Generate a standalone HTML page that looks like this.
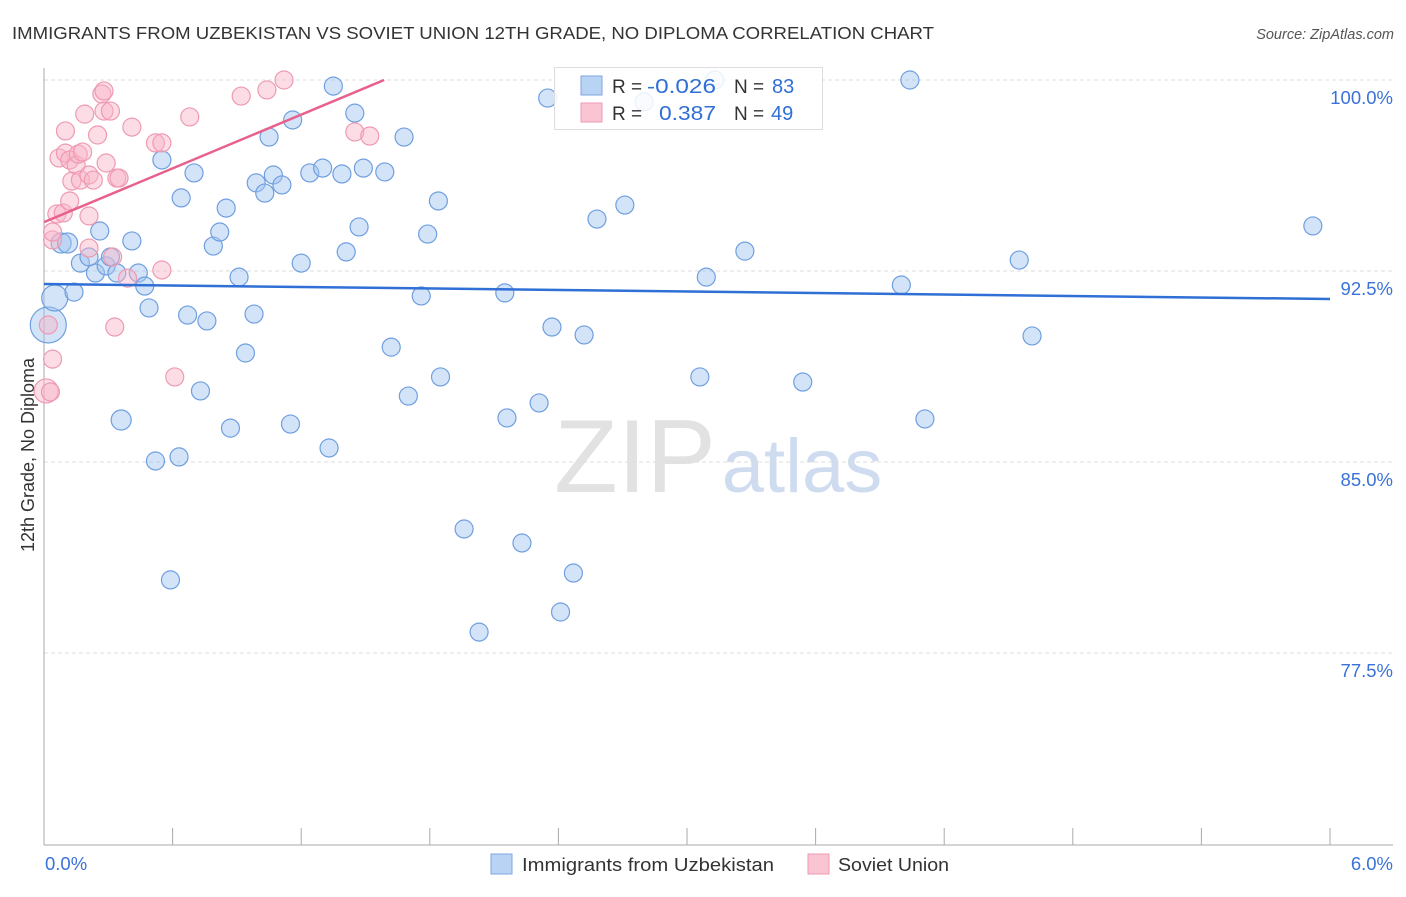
<!DOCTYPE html>
<html><head><meta charset="utf-8"><style>
body{margin:0;background:#fff;font-family:"Liberation Sans",sans-serif;}
svg text{font-family:"Liberation Sans",sans-serif;}
</style></head><body>
<svg id="chart" width="1406" height="892" viewBox="0 0 1406 892">
<text x="12" y="39" font-size="17.5" fill="#333" textLength="922" lengthAdjust="spacingAndGlyphs">IMMIGRANTS FROM UZBEKISTAN VS SOVIET UNION 12TH GRADE, NO DIPLOMA CORRELATION CHART</text>
<text x="1394" y="39" font-size="14.5" fill="#555" font-style="italic" text-anchor="end">Source: ZipAtlas.com</text>
<text x="34" y="455" font-size="18" fill="#333" text-anchor="middle" transform="rotate(-90 34 455)">12th Grade, No Diploma</text>
<g><text x="635" y="492" font-size="104" fill="#e2e2e2" font-family="Liberation Serif" text-anchor="middle">ZIP</text><text x="802" y="492" font-size="76" fill="#cfdcf0" text-anchor="middle">atlas</text></g>
<g id="grid"></g><g id="axes"></g><g id="pts"></g><g id="trends"></g>
<g>
<rect x="554.5" y="67.5" width="268" height="62" fill="rgba(255,255,255,0.85)" stroke="#ddd"/>
<rect x="581" y="76" width="21" height="19" fill="#b9d3f4" stroke="#7ea6e0"/>
<rect x="581" y="103" width="21" height="19" fill="#f9c5d3" stroke="#ee9ab2"/>
<text x="612" y="93" font-size="19" fill="#333">R = </text><text x="647" y="93" font-size="20" fill="#2f6fd6" textLength="69" lengthAdjust="spacingAndGlyphs">-0.026</text>
<text x="734" y="93" font-size="19" fill="#333">N = </text><text x="772" y="93" font-size="20" fill="#2f6fd6">83</text>
<text x="612" y="120" font-size="19" fill="#333">R = </text><text x="659" y="120" font-size="20" fill="#2f6fd6" textLength="57" lengthAdjust="spacingAndGlyphs">0.387</text>
<text x="734" y="120" font-size="19" fill="#333">N = </text><text x="771" y="120" font-size="20" fill="#2f6fd6">49</text>
</g>
<g>
<rect x="491" y="854" width="21" height="20" fill="#b9d3f4" stroke="#7ea6e0"/>
<text x="522" y="871" font-size="18" fill="#333" textLength="252" lengthAdjust="spacingAndGlyphs">Immigrants from Uzbekistan</text>
<rect x="808" y="854" width="21" height="20" fill="#f9c5d3" stroke="#ee9ab2"/>
<text x="838" y="871" font-size="18" fill="#333" textLength="111" lengthAdjust="spacingAndGlyphs">Soviet Union</text>
</g>
</svg>
<script>
const blueX=[.02,.05,.08,.11,.14,.17,.21,.24,.26,.29,.31,.34,.36,.41,.44,.47,.49,.52,.55,.59,.63,.64,.67,.70,.73,.76,.79,.82,.85,.87,.91,.94,.98,.99,1.03,1.05,1.07,1.11,1.15,1.16,1.20,1.24,1.30,1.33,1.35,1.39,1.41,1.45,1.47,1.49,1.59,1.62,1.68,1.70,1.76,1.79,1.84,1.85,1.96,2.03,2.15,2.16,2.23,2.31,2.35,2.37,2.41,2.47,2.52,2.58,2.71,2.80,3.06,3.09,3.13,3.27,3.54,4.00,4.04,4.11,4.55,4.61,5.92];
const blueY=[90.38,91.44,93.6,93.6,91.67,92.81,93.05,92.42,94.07,92.70,93.05,92.42,86.65,93.68,92.42,91.91,91.05,85.04,96.86,80.37,85.2,95.37,90.77,96.35,87.79,90.54,93.48,94.03,94.97,86.33,92.26,89.28,90.81,95.96,95.56,97.76,96.27,95.88,86.49,98.43,92.81,96.35,96.54,85.55,99.76,96.31,93.25,98.70,94.23,96.54,96.39,89.51,97.76,87.59,91.52,93.95,95.25,88.34,82.37,78.32,91.64,86.73,81.82,87.32,99.29,90.30,79.11,80.64,89.99,94.54,95.09,99.14,88.34,92.26,100.0,93.28,88.14,91.95,100.0,86.69,92.93,89.95,94.27];
const blueR=[18,13,10,10,9,9,9,9,9,9,9,9,10,9,9,9,9,9,9,9,9,9,9,9,9,9,9,9,9,9,9,9,9,9,9,9,9,9,9,9,9,9,9,9,9,9,9,9,9,9,9,9,9,9,9,9,9,9,9,9,9,9,9,9,9,9,9,9,9,9,9,9,9,9,9,9,9,9,9,9,9,9,9];
const pinkX=[.02,.01,.03,.04,.04,.04,.06,.07,.09,.10,.10,.12,.12,.13,.15,.16,.17,.18,.19,.21,.21,.21,.23,.25,.27,.28,.28,.29,.31,.32,.33,.34,.35,.39,.41,.52,.55,.55,.61,.68,.92,1.04,1.12,1.45,1.52];
const pinkY=[90.38,87.79,87.75,89.04,93.72,94.03,94.74,96.94,94.78,98.0,97.13,96.86,95.25,96.03,96.66,97.09,96.07,97.17,98.66,96.27,93.40,94.66,96.07,97.84,99.45,99.57,98.78,96.74,98.78,93.05,90.30,96.15,96.15,92.22,98.15,97.53,97.53,92.54,88.34,98.55,99.37,99.61,100.0,97.96,97.80];
const yTicks=[100,92.5,85,77.5];
const yTickLabels=["100.0%","92.5%","85.0%","77.5%"];
const xTickLabels=["0.0%","6.0%"];
const blueTrend=[91.99,91.40];
const pinkTrend=[94.42,1.587];
const X0=44,X1=1330,Y100=80,PXPER=191/7.5;
const sx=v=>X0+v/6*(X1-X0), sy=v=>Y100+(100-v)*PXPER;
const NS="http://www.w3.org/2000/svg";
function mk(t,a,p){const e=document.createElementNS(NS,t);for(const k in a)e.setAttribute(k,a[k]);p.appendChild(e);return e;}
const grid=document.getElementById('grid'),axes=document.getElementById('axes'),pts=document.getElementById('pts'),tr=document.getElementById('trends');
yTicks.forEach((t,i)=>{
 const l=mk('line',{x1:X0,x2:1393,y1:sy(t),y2:sy(t),stroke:'#ddd','stroke-dasharray':'4 3'},grid);
 
 
 const tx=mk('text',{x:1393,y:sy(t)+24,'font-size':18.5,fill:'#3a72d8','text-anchor':'end'},axes);
 tx.textContent=yTickLabels[i];
 
 
});
const ax=mk('line',{x1:X0,x2:X0,y1:68,y2:845,stroke:'#aaa'},axes);


const bx=mk('line',{x1:X0,x2:1393,y1:845,y2:845,stroke:'#aaa'},axes);


for(let i=0;i<=10;i++){const t=mk('line',{x1:sx(i*0.6),x2:sx(i*0.6),y1:828,y2:845,stroke:'#aaa'},axes);
 
 }
[[0,'start',45],[6,'end',1393]].forEach((d,i)=>{const t=mk('text',{x:d[2],y:870,'font-size':18.5,fill:'#3a72d8','text-anchor':d[1]},axes);t.textContent=xTickLabels[i];
 
 });
blueX.forEach((x,i)=>{const c=mk('circle',{cx:sx(x),cy:sy(blueY[i]),r:blueR[i]||9,fill:'rgba(160,196,240,0.45)',stroke:'#6f9fe0','stroke-width':1.2},pts);
 
 });
pinkX.forEach((x,i)=>{const c=mk('circle',{cx:sx(x),cy:sy(pinkY[i]),r:(i==1?12:9),fill:'rgba(248,180,200,0.45)',stroke:'#ee9ab2','stroke-width':1.2},pts);
 
 });
const bl=mk('line',{x1:sx(0),y1:sy(blueTrend[0]),x2:sx(6),y2:sy(blueTrend[1]),stroke:'#2f6fd6','stroke-width':2.5},tr);


const pl=mk('line',{x1:sx(0),y1:sy(pinkTrend[0]),x2:sx(pinkTrend[1]),y2:sy(100),stroke:'#e8608c','stroke-width':2.5},tr);


</script>
</body></html>
